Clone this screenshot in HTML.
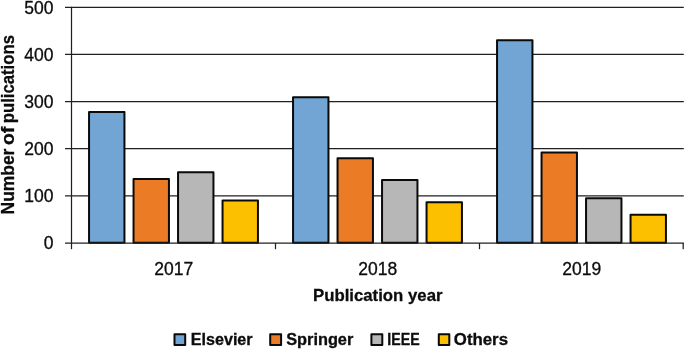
<!DOCTYPE html><html><head><meta charset="utf-8"><style>html,body{margin:0;padding:0;background:#fff}svg{display:block}text{font-family:"Liberation Sans",sans-serif;fill:#0c0c0c;stroke:#0c0c0c;stroke-width:0.3px}svg{will-change:transform;opacity:0.999}</style></head><body>
<svg width="685" height="349" viewBox="0 0 685 349">
<rect width="685" height="349" fill="#fff"/>
<line x1="65" x2="683.8" y1="195.86" y2="195.86" stroke="#202020" stroke-width="1.25"/>
<line x1="65" x2="683.8" y1="148.72" y2="148.72" stroke="#202020" stroke-width="1.25"/>
<line x1="65" x2="683.8" y1="101.58" y2="101.58" stroke="#202020" stroke-width="1.25"/>
<line x1="65" x2="683.8" y1="54.44" y2="54.44" stroke="#202020" stroke-width="1.25"/>
<line x1="65" x2="683.8" y1="7.30" y2="7.30" stroke="#202020" stroke-width="1.25"/>
<rect x="89.05" y="111.95" width="35.40" height="130.85" fill="#72A4D4" stroke="#0a0a0a" stroke-width="2.0" stroke-linejoin="round"/>
<rect x="133.55" y="178.89" width="35.40" height="63.91" fill="#EB7B24" stroke="#0a0a0a" stroke-width="2.0" stroke-linejoin="round"/>
<rect x="178.05" y="172.29" width="35.40" height="70.51" fill="#B7B7B7" stroke="#0a0a0a" stroke-width="2.0" stroke-linejoin="round"/>
<rect x="222.55" y="200.57" width="35.40" height="42.23" fill="#FCC000" stroke="#0a0a0a" stroke-width="2.0" stroke-linejoin="round"/>
<rect x="293.05" y="97.34" width="35.40" height="145.46" fill="#72A4D4" stroke="#0a0a0a" stroke-width="2.0" stroke-linejoin="round"/>
<rect x="337.55" y="158.15" width="35.40" height="84.65" fill="#EB7B24" stroke="#0a0a0a" stroke-width="2.0" stroke-linejoin="round"/>
<rect x="382.05" y="180.07" width="35.40" height="62.73" fill="#B7B7B7" stroke="#0a0a0a" stroke-width="2.0" stroke-linejoin="round"/>
<rect x="426.55" y="202.22" width="35.40" height="40.58" fill="#FCC000" stroke="#0a0a0a" stroke-width="2.0" stroke-linejoin="round"/>
<rect x="497.05" y="40.30" width="35.40" height="202.50" fill="#72A4D4" stroke="#0a0a0a" stroke-width="2.0" stroke-linejoin="round"/>
<rect x="541.55" y="152.49" width="35.40" height="90.31" fill="#EB7B24" stroke="#0a0a0a" stroke-width="2.0" stroke-linejoin="round"/>
<rect x="586.05" y="198.22" width="35.40" height="44.58" fill="#B7B7B7" stroke="#0a0a0a" stroke-width="2.0" stroke-linejoin="round"/>
<rect x="630.55" y="214.72" width="35.40" height="28.08" fill="#FCC000" stroke="#0a0a0a" stroke-width="2.0" stroke-linejoin="round"/>
<line x1="65" x2="683.8" y1="243.0" y2="243.0" stroke="#202020" stroke-width="1.25"/>
<line x1="71.5" x2="71.5" y1="6.8" y2="249.2" stroke="#202020" stroke-width="1.25"/>
<line x1="275.5" x2="275.5" y1="243.0" y2="249.2" stroke="#202020" stroke-width="1.25"/>
<line x1="479.5" x2="479.5" y1="243.0" y2="249.2" stroke="#202020" stroke-width="1.25"/>
<line x1="683.2" x2="683.2" y1="243.0" y2="249.2" stroke="#202020" stroke-width="1.25"/>
<text x="53.5" y="248.80" font-size="17.5" text-anchor="end">0</text>
<text x="53.5" y="202.06" font-size="17.5" text-anchor="end">100</text>
<text x="53.5" y="154.92" font-size="17.5" text-anchor="end">200</text>
<text x="53.5" y="107.78" font-size="17.5" text-anchor="end">300</text>
<text x="53.5" y="60.64" font-size="17.5" text-anchor="end">400</text>
<text x="53.5" y="13.50" font-size="17.5" text-anchor="end">500</text>
<text x="173.70" y="274.5" font-size="17.5" text-anchor="middle">2017</text>
<text x="377.70" y="274.5" font-size="17.5" text-anchor="middle">2018</text>
<text x="581.70" y="274.5" font-size="17.5" text-anchor="middle">2019</text>
<text x="313" y="301.1" font-size="17" font-weight="bold" textLength="129.5" lengthAdjust="spacingAndGlyphs">Publication year</text>
<text transform="translate(13.6,214.4) rotate(-90)" font-size="17.5" font-weight="bold" textLength="65.8" lengthAdjust="spacingAndGlyphs">Number</text>
<text transform="translate(13.6,145.1) rotate(-90)" font-size="17.5" font-weight="bold" textLength="18.3" lengthAdjust="spacingAndGlyphs">of</text>
<text transform="translate(13.6,123.3) rotate(-90)" font-size="17.5" font-weight="bold" textLength="88.3" lengthAdjust="spacingAndGlyphs">pulications</text>
<rect x="174.50" y="334.20" width="10.70" height="10.80" fill="#72A4D4" stroke="#0a0a0a" stroke-width="2.0" stroke-linejoin="round"/>
<text x="190.8" y="344.7" font-size="15.6" font-weight="bold" textLength="61.8" lengthAdjust="spacingAndGlyphs">Elsevier</text>
<rect x="270.20" y="334.20" width="10.90" height="10.80" fill="#EB7B24" stroke="#0a0a0a" stroke-width="2.0" stroke-linejoin="round"/>
<text x="286.2" y="344.7" font-size="15.6" font-weight="bold" textLength="67.1" lengthAdjust="spacingAndGlyphs">Springer</text>
<rect x="371.40" y="334.20" width="10.90" height="10.80" fill="#B7B7B7" stroke="#0a0a0a" stroke-width="2.0" stroke-linejoin="round"/>
<text x="387.3" y="344.7" font-size="15.6" font-weight="bold" textLength="32.3" lengthAdjust="spacingAndGlyphs">IEEE</text>
<rect x="438.80" y="334.20" width="10.50" height="10.80" fill="#FCC000" stroke="#0a0a0a" stroke-width="2.0" stroke-linejoin="round"/>
<text x="453.8" y="344.7" font-size="15.6" font-weight="bold" textLength="54.2" lengthAdjust="spacingAndGlyphs">Others</text>
</svg></body></html>
